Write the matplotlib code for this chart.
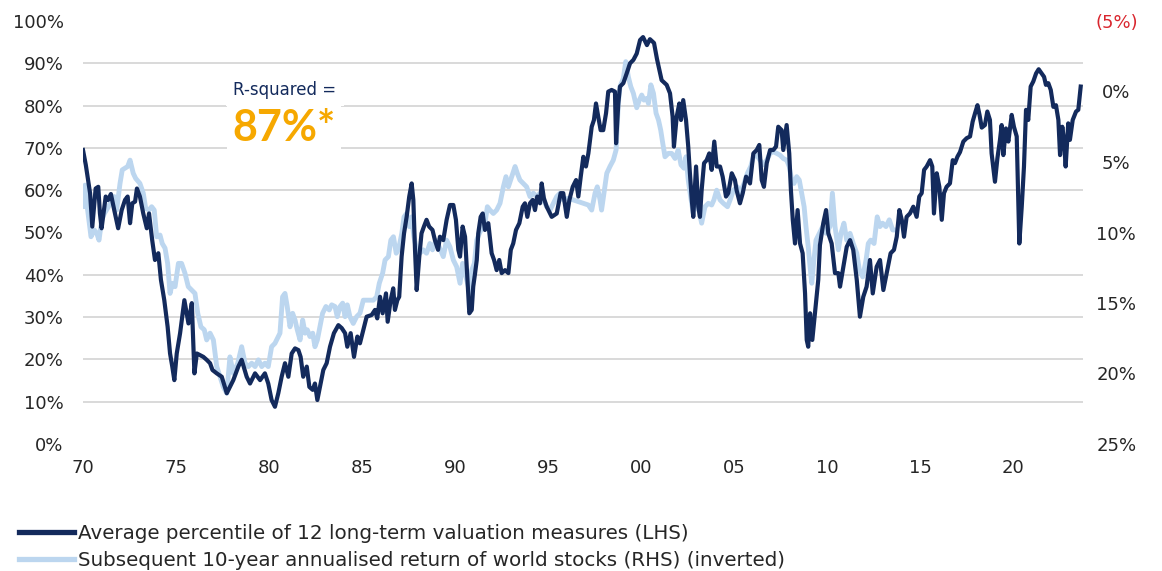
import matplotlib
matplotlib.use("Agg")
import matplotlib.pyplot as plt

plt.rcParams['font.family'] = ['DejaVu Sans']

# Average percentile of 12 valuation measures (LHS, %)
val_years = [
    1970.00, 1970.15, 1970.38, 1970.50, 1970.68, 1970.82, 1970.91, 1971.00, 1971.22, 1971.35,
    1971.50, 1971.68, 1971.89, 1972.08, 1972.26, 1972.40, 1972.53, 1972.65, 1972.80, 1972.90,
    1973.06, 1973.24, 1973.43, 1973.55, 1973.72, 1973.87, 1974.05, 1974.19, 1974.37, 1974.55,
    1974.68, 1974.80, 1974.91, 1975.04, 1975.22, 1975.45, 1975.67, 1975.85, 1975.99, 1976.12,
    1976.47, 1976.65, 1976.83, 1976.96, 1977.19, 1977.46, 1977.73, 1977.90, 1978.08, 1978.35,
    1978.53, 1978.80, 1978.98, 1979.25, 1979.52, 1979.78, 1979.96, 1980.14, 1980.32, 1980.50,
    1980.68, 1980.86, 1981.04, 1981.22, 1981.40, 1981.58, 1981.70, 1981.84, 1982.03, 1982.17,
    1982.35, 1982.47, 1982.60, 1982.74, 1982.92, 1983.10, 1983.28, 1983.49, 1983.73, 1983.91,
    1984.09, 1984.21, 1984.39, 1984.57, 1984.75, 1984.89, 1985.07, 1985.25, 1985.52, 1985.70,
    1985.82, 1985.97, 1986.11, 1986.29, 1986.38, 1986.54, 1986.68, 1986.77, 1986.90, 1987.00,
    1987.13, 1987.26, 1987.40, 1987.54, 1987.67, 1987.76, 1987.85, 1987.94, 1988.08, 1988.20,
    1988.33, 1988.47, 1988.61, 1988.79, 1988.92, 1989.09, 1989.19, 1989.37, 1989.55, 1989.73,
    1989.91, 1990.05, 1990.18, 1990.27, 1990.41, 1990.54, 1990.63, 1990.72, 1990.77, 1990.90,
    1990.98, 1991.08, 1991.17, 1991.25, 1991.38, 1991.49, 1991.61, 1991.79, 1991.97, 1992.10,
    1992.24, 1992.38, 1992.51, 1992.69, 1992.87, 1993.00, 1993.13, 1993.28, 1993.46, 1993.64,
    1993.76, 1993.89, 1994.03, 1994.18, 1994.30, 1994.42, 1994.57, 1994.66, 1994.78, 1994.93,
    1995.20, 1995.47, 1995.68, 1995.82, 1996.01, 1996.15, 1996.33, 1996.51, 1996.63, 1996.76,
    1996.90, 1997.04, 1997.17, 1997.35, 1997.47, 1997.58, 1997.70, 1997.83, 1997.97, 1998.12,
    1998.24, 1998.42, 1998.60, 1998.66, 1998.78, 1998.87, 1999.05, 1999.23, 1999.41, 1999.59,
    1999.77, 1999.95, 2000.11, 2000.32, 2000.48, 2000.70, 2000.86, 2001.11, 2001.38, 2001.56,
    2001.70, 2001.77, 2001.92, 2002.06, 2002.15, 2002.27, 2002.42, 2002.54, 2002.63, 2002.73,
    2002.81, 2002.96, 2003.08, 2003.17, 2003.26, 2003.39, 2003.53, 2003.67, 2003.80, 2003.94,
    2004.07, 2004.25, 2004.39, 2004.57, 2004.69, 2004.88, 2005.05, 2005.14, 2005.32, 2005.47,
    2005.65, 2005.86, 2006.04, 2006.22, 2006.36, 2006.49, 2006.61, 2006.76, 2006.94, 2007.11,
    2007.26, 2007.38, 2007.56, 2007.65, 2007.83, 2007.97, 2008.06, 2008.16, 2008.28, 2008.42,
    2008.55, 2008.69, 2008.82, 2008.91, 2008.99, 2009.09, 2009.21, 2009.35, 2009.53, 2009.62,
    2009.80, 2009.95, 2010.07, 2010.25, 2010.43, 2010.61, 2010.70, 2010.88, 2011.06, 2011.24,
    2011.41, 2011.60, 2011.77, 2011.95, 2012.13, 2012.31, 2012.46, 2012.67, 2012.85, 2013.03,
    2013.24, 2013.42, 2013.60, 2013.75, 2013.89, 2014.02, 2014.14, 2014.28, 2014.46, 2014.64,
    2014.82, 2014.96, 2015.09, 2015.22, 2015.36, 2015.54, 2015.66, 2015.75, 2015.90, 2016.04,
    2016.17, 2016.29, 2016.43, 2016.61, 2016.76, 2016.88, 2017.01, 2017.15, 2017.33, 2017.51,
    2017.69, 2017.83, 2017.96, 2018.09, 2018.20, 2018.32, 2018.49, 2018.62, 2018.76, 2018.85,
    2019.03, 2019.16, 2019.30, 2019.39, 2019.48, 2019.62, 2019.75, 2019.93, 2020.05, 2020.20,
    2020.34, 2020.47, 2020.59, 2020.70, 2020.82, 2020.95, 2021.09, 2021.24, 2021.38, 2021.54,
    2021.67, 2021.77, 2021.90, 2022.03, 2022.17, 2022.31, 2022.44, 2022.53, 2022.65, 2022.74,
    2022.83, 2022.97, 2023.06, 2023.21, 2023.39, 2023.51, 2023.64,
]
val_pct = [
    69.5, 66.0, 59.3, 51.4, 60.4, 60.8, 54.5, 51.0, 58.5, 57.7,
    59.1, 55.3, 51.0, 55.3, 57.7, 58.5, 52.2, 56.9, 57.3, 60.4,
    58.5, 54.5, 51.0, 54.5, 48.2, 43.5, 45.1, 38.8, 34.0, 27.7,
    21.4, 18.3, 15.1, 21.4, 26.2, 34.0, 28.5, 33.3, 16.7, 21.4,
    20.6, 19.9, 19.1, 17.5, 16.7, 15.9, 12.0, 13.5, 15.1, 18.3,
    19.9, 15.9, 14.3, 16.7, 15.1, 16.7, 14.3, 10.4, 8.8, 12.0,
    15.9, 19.1, 15.9, 21.4, 22.6, 22.2, 20.6, 15.9, 18.3, 13.5,
    12.8, 14.3, 10.4, 13.5, 17.5, 19.1, 23.0, 26.2, 28.1, 27.4,
    26.2, 23.0, 26.2, 20.6, 25.4, 23.8, 27.0, 30.1, 30.5, 31.7,
    29.7, 34.8, 30.9, 35.6, 28.9, 34.0, 36.8, 31.7, 34.0, 34.8,
    44.3, 49.8, 53.7, 58.5, 61.6, 57.7, 45.9, 36.4, 44.3, 49.8,
    51.4, 53.0, 51.4, 50.6, 48.2, 45.9, 49.0, 48.2, 53.0, 56.5,
    56.5, 53.0, 45.9, 44.3, 51.4, 49.0, 41.9, 34.8, 30.9, 31.7,
    37.2, 40.4, 43.5, 49.8, 53.7, 54.5, 50.6, 52.2, 45.1, 43.5,
    41.1, 43.5, 40.4, 41.1, 40.4, 45.9, 47.4, 50.6, 52.2, 56.1,
    56.9, 53.7, 56.9, 57.7, 55.3, 58.5, 56.9, 61.6, 58.1, 56.1,
    53.7, 54.5, 59.3, 59.3, 53.7, 57.7, 60.8, 62.4, 58.5, 63.2,
    67.9, 65.6, 68.7, 75.0, 76.6, 80.5, 77.4, 74.2, 74.2, 78.2,
    83.3, 83.7, 83.3, 71.1, 80.5, 84.5, 85.3, 87.6, 90.0, 90.8,
    92.3, 95.5, 96.2, 94.3, 95.7, 94.8, 91.0, 86.0, 84.9, 82.9,
    77.4, 70.3, 77.4, 80.5, 76.6, 81.3, 76.6, 70.3, 64.0, 57.7,
    53.7, 65.6, 56.1, 53.7, 60.0, 66.4, 67.1, 68.7, 64.8, 71.5,
    65.6, 65.6, 63.2, 58.5, 59.3, 64.0, 62.4, 60.0, 56.9, 59.3,
    63.2, 61.6, 68.7, 69.5, 70.7, 62.4, 60.8, 66.4, 69.5, 69.5,
    70.3, 75.0, 74.2, 69.5, 75.4, 68.7, 60.0, 53.0, 47.4, 55.3,
    47.4, 45.1, 35.6, 24.6, 23.0, 30.9, 24.6, 30.9, 38.8, 47.0,
    52.2, 55.3, 49.8, 47.4, 40.4, 40.4, 37.2, 41.9, 46.6, 48.2,
    45.9, 38.8, 30.1, 34.8, 37.2, 43.5, 35.6, 41.9, 43.5, 36.4,
    41.1, 45.1, 45.9, 49.0, 55.3, 53.0, 49.0, 53.7, 54.5, 56.1,
    53.7, 58.5, 59.3, 64.8, 65.6, 67.1, 65.6, 54.5, 64.0, 60.8,
    53.0, 59.3, 60.8, 61.6, 67.1, 66.4, 67.9, 69.0, 71.5, 72.3,
    72.7, 76.2, 78.2, 80.1, 77.8, 74.8, 75.4, 78.6, 76.6, 68.7,
    62.0, 67.5, 71.9, 75.4, 68.3, 74.6, 71.5, 77.8, 75.0, 72.7,
    47.4, 56.1, 65.6, 79.0, 76.6, 84.5, 85.7, 87.6, 88.6, 87.6,
    86.8, 84.9, 85.3, 83.7, 79.7, 80.1, 76.6, 68.3, 75.0, 71.9,
    65.6, 75.8, 71.9, 76.6, 78.6, 79.0, 84.5,
]

# Subsequent 10-year annualised return of world stocks (RHS, %)
ret_years = [
    1970.00, 1970.06, 1970.11, 1970.25, 1970.43, 1970.61, 1970.74, 1970.86, 1971.01, 1971.15,
    1971.37, 1971.54, 1971.68, 1971.81, 1971.99, 1972.11, 1972.26, 1972.40, 1972.53, 1972.70,
    1972.83, 1973.06, 1973.24, 1973.37, 1973.55, 1973.69, 1973.83, 1973.96, 1974.14, 1974.26,
    1974.41, 1974.55, 1974.68, 1974.80, 1974.95, 1975.13, 1975.30, 1975.48, 1975.66, 1975.84,
    1976.02, 1976.17, 1976.34, 1976.52, 1976.65, 1976.83, 1977.01, 1977.19, 1977.37, 1977.54,
    1977.73, 1977.90, 1978.08, 1978.32, 1978.53, 1978.71, 1978.89, 1979.07, 1979.25, 1979.43,
    1979.61, 1979.78, 1979.96, 1980.14, 1980.32, 1980.41, 1980.59, 1980.73, 1980.86, 1980.98,
    1981.13, 1981.27, 1981.40, 1981.52, 1981.67, 1981.81, 1981.94, 1982.06, 1982.20, 1982.35,
    1982.47, 1982.60, 1982.74, 1982.88, 1983.06, 1983.24, 1983.37, 1983.55, 1983.67, 1983.82,
    1983.96, 1984.09, 1984.21, 1984.35, 1984.53, 1984.71, 1984.89, 1985.07, 1985.25, 1985.43,
    1985.61, 1985.79, 1985.93, 1986.11, 1986.24, 1986.42, 1986.55, 1986.69, 1986.84, 1986.96,
    1987.14, 1987.26, 1987.40, 1987.54, 1987.67, 1987.79, 1987.94, 1988.11, 1988.29, 1988.47,
    1988.65, 1988.79, 1988.97, 1989.15, 1989.37, 1989.55, 1989.73, 1989.91, 1990.09, 1990.27,
    1990.41, 1990.54, 1990.72, 1990.81, 1990.90, 1991.04, 1991.17, 1991.31, 1991.49, 1991.61,
    1991.74, 1991.88, 1992.06, 1992.24, 1992.42, 1992.60, 1992.74, 1992.87, 1993.05, 1993.23,
    1993.35, 1993.49, 1993.67, 1993.85, 1994.03, 1994.21, 1994.39, 1994.57, 1994.75, 1994.93,
    1995.11, 1995.29, 1995.47, 1995.65, 1995.82, 1996.09, 1996.36, 1996.63, 1996.90, 1997.17,
    1997.35, 1997.53, 1997.65, 1997.80, 1997.88, 1998.01, 1998.16, 1998.33, 1998.51, 1998.66,
    1998.78, 1998.87, 1999.05, 1999.18, 1999.32, 1999.45, 1999.59, 1999.77, 1999.91, 2000.04,
    2000.16, 2000.31, 2000.40, 2000.53, 2000.67, 2000.81, 2000.94, 2001.06, 2001.17, 2001.29,
    2001.47, 2001.65, 2001.83, 2002.00, 2002.15, 2002.31, 2002.42, 2002.54, 2002.67, 2002.81,
    2002.96, 2003.08, 2003.26, 2003.44, 2003.62, 2003.80, 2003.92, 2004.07, 2004.25, 2004.43,
    2004.65, 2004.79, 2004.97, 2005.18, 2005.32, 2005.54, 2005.72, 2005.90, 2006.04, 2006.22,
    2006.40, 2006.58, 2006.76, 2006.94, 2007.11, 2007.30, 2007.47, 2007.65, 2007.83, 2007.97,
    2008.10, 2008.23, 2008.37, 2008.51, 2008.64, 2008.77, 2008.87, 2008.99, 2009.09, 2009.18,
    2009.26, 2009.41, 2009.59, 2009.77, 2009.95, 2010.16, 2010.29, 2010.43, 2010.61, 2010.75,
    2010.91, 2011.06, 2011.24, 2011.41, 2011.60, 2011.74, 2011.92, 2012.10, 2012.22, 2012.35,
    2012.53, 2012.70, 2012.85, 2012.99, 2013.17, 2013.35, 2013.53, 2013.71,
]
ret_pct = [
    7.15, 8.17, 6.64, 8.41, 10.30, 9.82, 10.06, 10.54, 9.10, 8.65,
    8.17, 7.69, 7.45, 8.41, 6.52, 5.56, 5.44, 5.32, 4.87, 5.80,
    6.16, 6.52, 7.21, 8.29, 8.41, 8.17, 8.41, 10.30, 10.18, 10.78,
    11.11, 12.19, 14.32, 13.60, 13.84, 12.19, 12.19, 12.88, 13.84, 14.08,
    14.32, 15.73, 16.69, 16.90, 17.62, 17.14, 17.62, 19.51, 20.23, 20.95,
    21.40, 18.82, 19.99, 19.27, 18.10, 19.27, 19.51, 19.27, 19.51, 19.03,
    19.51, 19.27, 19.51, 18.10, 17.86, 17.62, 17.14, 14.56, 14.32, 15.25,
    16.69, 15.73, 16.21, 16.90, 17.62, 16.21, 17.14, 16.90, 17.38, 17.14,
    18.10, 17.62, 16.69, 15.73, 15.25, 15.49, 15.13, 15.25, 15.97, 15.25,
    15.01, 15.97, 15.13, 15.97, 16.45, 15.97, 15.73, 14.80, 14.80, 14.80,
    14.80, 14.56, 13.60, 12.88, 11.95, 11.71, 10.54, 10.30, 11.47, 11.23,
    10.06, 8.89, 8.65, 9.58, 8.89, 10.30, 11.23, 11.47, 11.23, 11.47,
    10.78, 11.23, 10.54, 11.02, 11.71, 10.54, 11.02, 11.95, 12.43, 13.60,
    12.19, 12.88, 13.84, 14.32, 12.67, 12.19, 10.54, 10.06, 9.58, 9.34,
    8.17, 8.41, 8.65, 8.41, 7.93, 6.76, 6.04, 6.76, 6.04, 5.32,
    5.80, 6.28, 6.52, 6.76, 7.45, 7.21, 7.45, 7.21, 7.69, 8.17,
    8.41, 7.93, 7.45, 7.21, 7.69, 7.57, 7.69, 7.81, 7.93, 8.05,
    8.41, 7.21, 6.76, 7.69, 8.41, 7.21, 5.80, 5.32, 4.87, 4.15,
    0.85, -0.35, -0.92, -2.12, -1.04, -0.35, 0.13, 1.15, 0.61, 0.25,
    0.61, 0.49, 0.85, -0.47, 0.13, 1.54, 2.02, 2.74, 3.67, 4.63,
    4.39, 4.39, 4.75, 4.15, 5.20, 5.44, 4.63, 6.28, 7.45, 8.65,
    7.69, 8.17, 9.34, 8.17, 7.93, 8.05, 7.69, 7.00, 7.69, 7.93,
    8.17, 7.69, 7.00, 6.76, 7.21, 6.52, 5.80, 5.32, 4.63, 4.51,
    4.87, 5.20, 4.87, 4.39, 4.27, 4.39, 4.51, 4.75, 4.87, 5.32,
    6.28, 6.52, 6.04, 6.28, 7.21, 8.17, 9.58, 11.02, 12.43, 13.60,
    12.43, 10.54, 10.06, 9.58, 10.06, 9.58, 7.21, 9.58, 11.23, 10.06,
    9.34, 10.54, 10.06, 10.78, 11.47, 12.67, 13.15, 11.95, 10.78, 10.54,
    10.78, 8.89, 9.58, 9.34, 9.58, 9.10, 9.82, 9.82,
]

x_ticks = [1970, 1975, 1980, 1985, 1990, 1995, 2000, 2005, 2010, 2015, 2020]
x_labels = ['70', '75', '80', '85', '90', '95', '00', '05', '10', '15', '20']
left_ticks = [0, 10, 20, 30, 40, 50, 60, 70, 80, 90, 100]
right_ticks = [-5, 0, 5, 10, 15, 20, 25]
right_labels = ['(5%)', '0%', '5%', '10%', '15%', '20%', '25%']

navy = '#132a5c'
light = '#bcd6ef'
grid_col = '#d9d9d9'
text_col = '#262626'

fig = plt.figure(figsize=(11.62, 5.71), dpi=100)
ax = fig.add_axes([83 / 1162, 1 - 444 / 571, 1000 / 1162, 423 / 571])
ax2 = ax.twinx()

# light series sits under the navy one, so the left axes goes on top
ax.set_zorder(ax2.get_zorder() + 1)
ax.patch.set_visible(False)

ax.set_ylim(0, 100)
ax2.set_ylim(25, -5)
ax.set_xlim(1970, 1970 + 1000 / 18.6)

# gridlines drawn on the lower axes at the LHS 10% steps
grid_r = [25 - 0.3 * v for v in left_ticks]
ax2.set_yticks(grid_r, minor=True)
ax2.tick_params(axis='y', which='minor', length=0)
ax2.grid(True, which='minor', axis='y', color=grid_col, linewidth=1.4)

ax2.plot(ret_years, ret_pct, color=light, linewidth=3.5, solid_joinstyle='round',
         label='Subsequent 10-year annualised return of world stocks (RHS) (inverted)')
ax.plot(val_years, val_pct, color=navy, linewidth=3.0, solid_joinstyle='round',
        label='Average percentile of 12 long-term valuation measures (LHS)')

ax.set_yticks(left_ticks)
ax.set_yticklabels([f'{v}%' for v in left_ticks])
ax.set_xticks(x_ticks)
ax.set_xticklabels(x_labels)
ax.tick_params(axis='y', length=0, pad=14, labelsize=13, labelcolor=text_col)
ax.tick_params(axis='x', length=0, pad=11, labelsize=13, labelcolor=text_col)

ax2.set_yticks(right_ticks)
ax2.set_yticklabels(right_labels)
ax2.tick_params(axis='y', which='major', length=0, pad=24, labelsize=13, labelcolor=text_col)
for lab in ax2.get_yticklabels():
    lab.set_horizontalalignment('center')
ax2.get_yticklabels()[0].set_color('#d9262e')

for a in (ax, ax2):
    for s in a.spines.values():
        s.set_visible(False)

ax.text(1980.85, 83.8, 'R-squared =', ha='center', va='center', fontsize=12,
        color=navy, zorder=5,
        bbox=dict(boxstyle='square,pad=0.45', facecolor='white', edgecolor='none'))
ax.text(1980.8, 74.8, '87%*', ha='center', va='center', fontsize=31,
        fontweight='bold', family=['Lato', 'DejaVu Sans'], color='#f6a800', zorder=5,
        bbox=dict(boxstyle='square,pad=0.12', facecolor='white', edgecolor='none'))

h1, l1 = ax.get_legend_handles_labels()
h2, l2 = ax2.get_legend_handles_labels()
leg = fig.legend(h1 + h2, l1 + l2, loc='center left', bbox_to_anchor=(19 / 1162, 1 - 547 / 571),
                 frameon=False, fontsize=14.3, handlelength=2.75, handletextpad=0.2,
                 labelspacing=0.4, borderpad=0, borderaxespad=0)
for t in leg.get_texts():
    t.set_color(text_col)
for line in leg.get_lines():
    line.set_linewidth(3.8)

fig.savefig('out.png', dpi=100)
